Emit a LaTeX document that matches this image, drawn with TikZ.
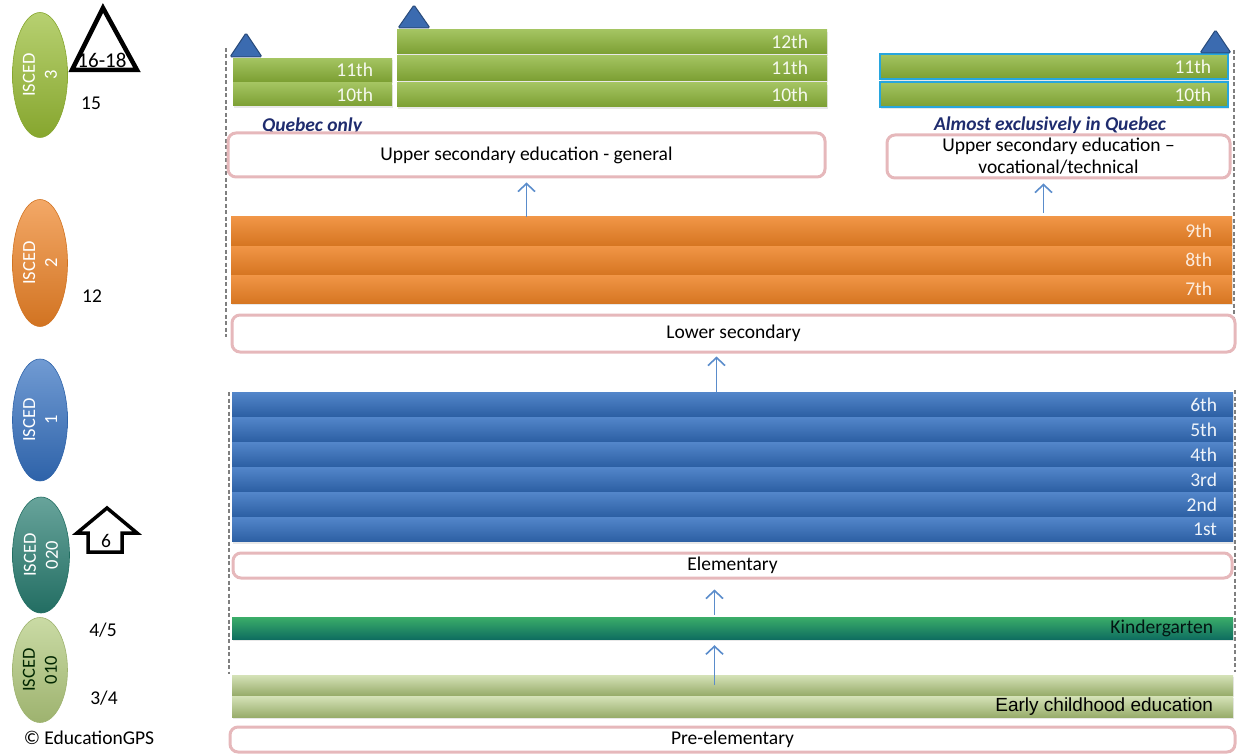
\documentclass[tikz,border=0pt]{standalone}
\usepackage{fontspec}
\setmainfont{Carlito}
\newfontfamily\arialfont{Liberation Sans}
\usetikzlibrary{arrows.meta, positioning, shapes.geometric, calc, shadows}
\definecolor{clime}{HTML}{8DB53A}
\definecolor{corange}{HTML}{EE8326}
\definecolor{cblue}{HTML}{3470C0}
\definecolor{cteal}{HTML}{0F6E60}
\definecolor{cpale}{HTML}{B3CB7E}
\definecolor{cpink}{HTML}{E6B8BB}
\definecolor{carrow}{HTML}{5A8CCB}
\definecolor{cnavy}{HTML}{1F2C6E}
\definecolor{ccyan}{HTML}{27A6DE}
\definecolor{cdash}{HTML}{7F7F7F}
\definecolor{ctri}{HTML}{3B6BB0}
\tikzset{
  every picture/.style={font=\fontsize{19.5}{23}\selectfont},
  bar/.style={rectangle, inner sep=0pt, draw=none, minimum height=#1,
    drop shadow={opacity=0.18, shadow xshift=1pt, shadow yshift=-2pt}},
  greenbar/.style={top color=clime!80!white, bottom color=clime!88!black},
  orangebar/.style={top color=corange!85!white, bottom color=corange!90!black},
  bluebar/.style={top color=cblue!85!white, bottom color=cblue!85!black},
  kgbar/.style={top color=cteal!70!green!80!white, bottom color=cteal},
  ecbar/.style={top color=cpale!55!white, bottom color=cpale!85!black},
  grade/.style={anchor=east, inner sep=0pt, text=#1},
  level/.style={draw=cpink, line width=3pt, rounded corners=8pt, fill=white, inner sep=0pt, align=center},
  isced/.style={ellipse, rotate=90, inner sep=0pt, align=center, font=\fontsize{18.5}{22}\selectfont,
    text=white, top color=#1!70!white, bottom color=#1!88!black, draw=#1!88!black, line width=0.6pt,
    minimum height=55pt},
  track/.style={font=\fontsize{19.5}{23}\selectfont\bfseries\itshape, text=cnavy},
  uparrow/.style={-{Straight Barb[length=8pt, width=17pt]}, draw=carrow, line width=1.6pt},
  guide/.style={draw=cdash, line width=2pt, dash pattern=on 4pt off 2.5pt},
  age/.style={inner sep=0pt},
}
\begin{document}
\begin{tikzpicture}[x=1pt, y=-1pt]
  \useasboundingbox (0,0) rectangle (1239,754);
  % dashed guides behind the bars
  \draw[guide] (226,48) -- (226,337);
  \draw[guide] (1234,50) -- (1234,345);
  \draw[guide] (229,392) -- (229,674);
  \draw[guide] (1235,390) -- (1235,672);

  % ISCED levels on the left
  \node[isced=clime!90!yellow, minimum width=125pt] (is3) at (40,75) {ISCED\\3};
  \node[isced=corange, minimum width=127pt] (is2) at (40,263) {ISCED\\2};
  \node[isced=cblue, minimum width=122pt] (is1) at (40,420) {ISCED\\1};
  \node[isced=cteal!90!white, minimum width=116pt, minimum height=57pt] (is020) at (41,555) {ISCED\\020};
  \node[isced=cpale, minimum width=105pt, text=black!85!green] (is010) at (40,670) {ISCED\\010};

  \draw[line width=4.5pt, line join=miter] (103,8) -- (137,70) -- (72,70) -- cycle;
  \node[age, font=\fontsize{21}{21}\selectfont] (age1618) at (102,60) {16-18};
  \node[age] (age15) at (91,103) {15};
  \node[age] (age12) at (92,296) {12};
  \draw[line width=3.5pt, line join=miter] (107,508) -- (137,533) -- (122,533) -- (122,552)
    -- (88,552) -- (88,533) -- (77,533) -- cycle;
  \node[age] (age6) at (106,541) {6};
  \node[age] (age45) at (103,630) {4/5};
  \node[age] (age34) at (104,698) {3/4};
  \node[age] (copy) at (89,738) {\textcopyright{} EducationGPS};

  % upper secondary, Quebec only
  \foreach \n/\y in {11th/70, 10th/94.5} {
    \node[bar=23pt, greenbar, minimum width=159pt] (gl\n) at (312.5,\y) {};
    \node[grade=white!92!clime] (lbl-gl\n) at ([xshift=-19pt]gl\n.east) {\n};
  }
  % upper secondary, general
  \foreach \n/\y/\h in {12th/42/24, 11th/68/25, 10th/95/24} {
    \node[bar=\h pt, greenbar, minimum width=430pt] (gm\n) at (612,\y) {};
    \node[grade=white!92!clime] (lbl-gm\n) at ([xshift=-19pt]gm\n.east) {\n};
  }
  % upper secondary, vocational
  \foreach \n/\y in {11th/66.5, 10th/94.5} {
    \node[bar=25pt, greenbar, draw=ccyan, line width=2.5pt, minimum width=348pt] (gr\n) at (1054,\y) {};
    \node[grade=white!92!clime] (lbl-gr\n) at ([xshift=-18pt]gr\n.east) {\n};
  }
  % small blue markers
  \filldraw[fill=ctri, draw=ctri!70!black, line width=1pt, rounded corners=1.5pt]
    (230,57) -- (262,57) -- (246,33) -- cycle
    (398,28) -- (430,28) -- (414,5) -- cycle
    (1200,53) -- (1231,53) -- (1215.5,30) -- cycle;

  \node[track] (quebec) at (312,126) {Quebec only};
  \node[track] (almost) at (1050,125) {Almost exclusively in Quebec};
  \node[level, minimum width=597pt, minimum height=44pt] (ugen) at (526.5,155) {Upper secondary education - general};
  \node[level, minimum width=343pt, minimum height=43pt, font=\fontsize{19.5}{22}\selectfont] (uvoc) at (1058.5,156.5)
    {Upper secondary education --\\vocational/technical};

  % lower secondary
  \foreach \n/\y in {9th/231, 8th/260, 7th/289} {
    \node[bar=28pt, orangebar, minimum width=1001pt] (o\n) at (731.5,\y) {};
    \node[grade=white!85!corange] (lbl-o\n) at ([xshift=-20pt]o\n.east) {\n};
  }
  \node[level, minimum width=1003pt, minimum height=37pt] (lsec) at (733.5,333.5) {Lower secondary};

  % elementary
  \foreach \n [count=\i] in {6th,5th,4th,3rd,2nd,1st} {
    \node[bar=24pt, bluebar, minimum width=1001pt] (b\n) at (732.5,{404.5+25*(\i-1)}) {};
    \node[grade=white!92!cblue] (lbl-b\n) at ([xshift=-16pt]b\n.east) {\n};
  }
  \node[level, minimum width=999pt, minimum height=25pt] (elem) at (732.5,565.5) {Elementary};

  % pre-elementary
  \node[bar=22pt, kgbar, minimum width=1001pt] (kg) at (732.5,628) {};
  \node[grade=black!80!cteal] (lbl-kg) at ([xshift=-20pt]kg.east) {Kindergarten};
  \node[bar=20pt, ecbar, minimum width=1001pt] (ec1) at (732.5,685) {};
  \node[bar=21pt, ecbar, minimum width=1001pt] (ec2) at (732.5,706.5) {};
  \node[grade=black, font=\arialfont\fontsize{19}{22}\selectfont] (lbl-ec) at ([xshift=-20pt]ec2.east) {Early childhood education};
  \node[level, minimum width=1005pt, minimum height=25pt] (preel) at (732.5,739.5) {Pre-elementary};

  % progression arrows
  \coordinate (vocin) at ([xshift=-15pt]uvoc.south);
  \coordinate (lsin) at ([xshift=-17pt]lsec.south);
  \coordinate (elin) at ([xshift=-18pt]elem.south);
  \coordinate (kgin) at ([xshift=-18pt]kg.south);
  \draw[uparrow, shorten >=4pt] (ugen.south |- o9th.north) -- (ugen.south);
  \draw[uparrow, shorten >=4pt, shorten <=4pt] (vocin |- o9th.north) -- (vocin);
  \draw[uparrow, shorten >=3pt] (lsin |- b6th.north) -- (lsin);
  \draw[uparrow, shorten >=10pt, shorten <=2pt] (elin |- kg.north) -- (elin);
  \draw[uparrow, shorten >=6pt] (kgin |- ec1.center) -- (kgin);
\end{tikzpicture}
\end{document}
